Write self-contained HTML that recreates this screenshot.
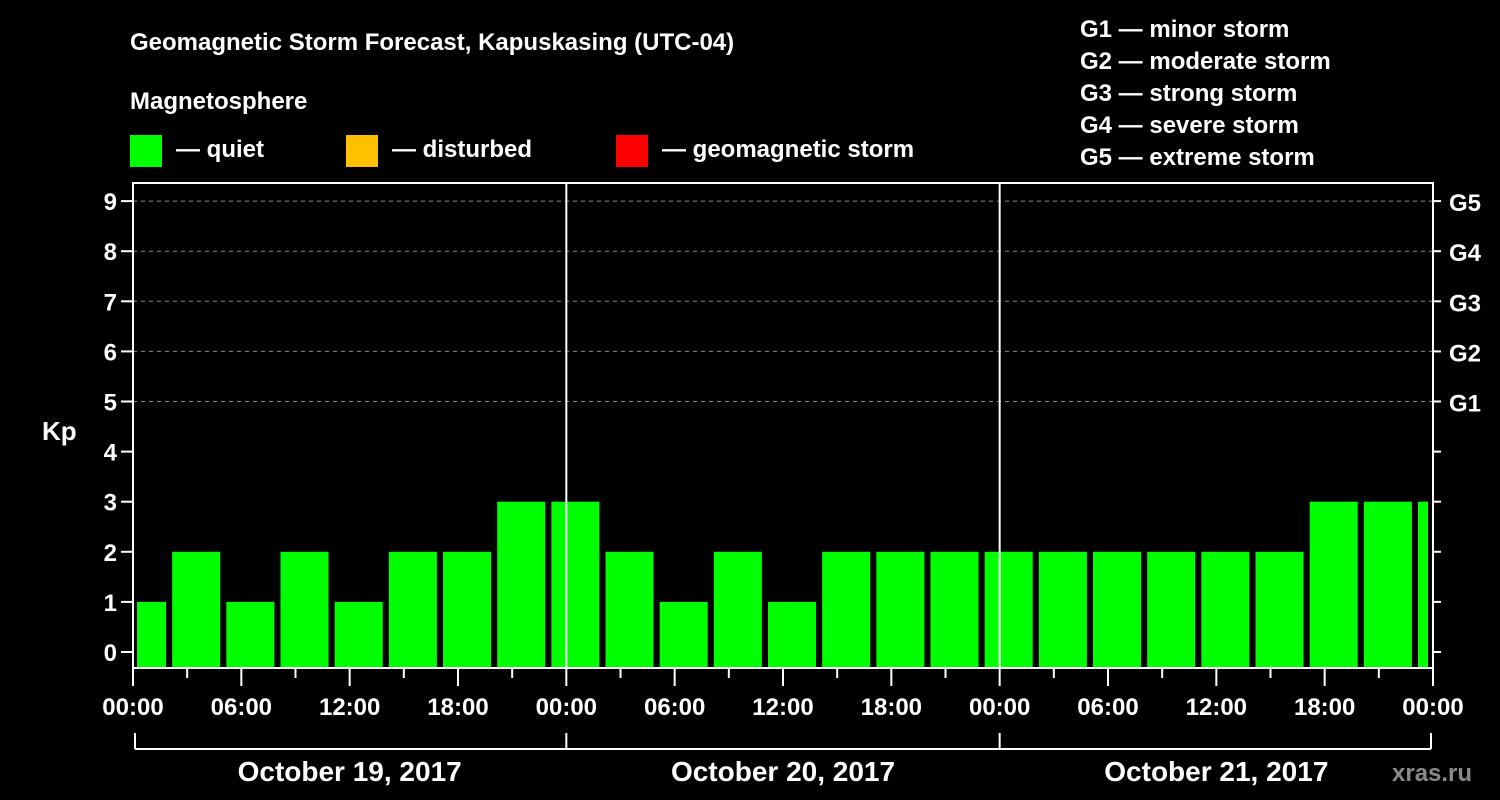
<!DOCTYPE html>
<html><head><meta charset="utf-8"><style>
html,body{margin:0;padding:0;background:#000;width:1500px;height:800px;overflow:hidden}
svg text{font-family:"Liberation Sans",Arial,sans-serif;font-weight:bold;fill:#fff}
</style></head><body>
<svg id="chart" width="1500" height="800" xmlns="http://www.w3.org/2000/svg">
<text x="130" y="50" font-size="24">Geomagnetic Storm Forecast, Kapuskasing (UTC-04)</text>
<text x="130" y="109" font-size="24">Magnetosphere</text>
<g><rect x="130" y="135" width="32" height="32" fill="#00ff00"/><text x="176" y="157" font-size="24">— quiet</text></g>
<g><rect x="346" y="135" width="32" height="32" fill="#ffc000"/><text x="392" y="157" font-size="24">— disturbed</text></g>
<g><rect x="616" y="135" width="32" height="32" fill="#ff0000"/><text x="662" y="157" font-size="24">— geomagnetic storm</text></g>
<g font-size="24">
<text x="1080" y="37">G1 — minor storm</text>
<text x="1080" y="69">G2 — moderate storm</text>
<text x="1080" y="101">G3 — strong storm</text>
<text x="1080" y="133">G4 — severe storm</text>
<text x="1080" y="165">G5 — extreme storm</text>
</g>
<text x="42" y="440" font-size="26">Kp</text>
<text x="1392" y="781" font-size="24" fill="#888" style="fill:#8a8a8a">xras.ru</text>
<g id="plot"></g>
</svg>
<script>
const kpValues=[1,2,1,2,1,2,2,3,3,2,1,2,1,2,2,2,2,2,2,2,2,2,3,3,3];
const yTicks=[0,1,2,3,4,5,6,7,8,9];
const gLabels=["G1","G2","G3","G4","G5"];
const xTickLabels=["00:00","06:00","12:00","18:00","00:00","06:00","12:00","18:00","00:00","06:00","12:00","18:00","00:00"];
const dayLabels=["October 19, 2017","October 20, 2017","October 21, 2017"];
const firstBarHour=0.5; // center hour of first bar
const X0=133,X1=1433,Y0=668,YTOP=183,TOT=72;
const xs=h=>X0+h*(X1-X0)/TOT;
const ys=v=>652-v*50.1;
const NS="http://www.w3.org/2000/svg";
const p=document.getElementById('plot');
function mk(t,a,parent){const e=document.createElementNS(NS,t);for(const k in a)e.setAttribute(k,a[k]);(parent||p).appendChild(e);return e;}
// grid
for(let v=5;v<=9;v++){const l=mk('line',{x1:X0,x2:X1,y1:ys(v),y2:ys(v),stroke:'#888','stroke-dasharray':'4,4','stroke-width':1});

}
// bars
kpValues.forEach((v,i)=>{const c=firstBarHour+i*3;let a=xs(c-1.33),b=xs(c+1.33);a=Math.max(a,X0+4);b=Math.min(b,X1-5);if(b<=a)return;
const col=v>=5?'#ff0000':(v>=4?'#ffc000':'#00ff00');
const r=mk('rect',{x:a,y:ys(v),width:b-a,height:Y0-1-ys(v),fill:col});

});
// day separators
[24,48].forEach(h=>{const l=mk('line',{x1:xs(h),x2:xs(h),y1:YTOP,y2:Y0,stroke:'#fff','stroke-width':2});

});
// frame
const f=mk('rect',{x:X0,y:YTOP,width:X1-X0,height:Y0-YTOP,fill:'none',stroke:'#fff','stroke-width':2});


// y ticks
yTicks.forEach(v=>{mk('line',{x1:X0-12,x2:X0,y1:ys(v),y2:ys(v),stroke:'#fff','stroke-width':2});
mk('line',{x1:X1,x2:X1+8,y1:ys(v),y2:ys(v),stroke:'#fff','stroke-width':2});
const t=mk('text',{x:X0-16,y:ys(v)+9,'font-size':24,'text-anchor':'end'});t.textContent=v;

});
gLabels.forEach((g,i)=>{const t=mk('text',{x:1449,y:ys(5+i)+10,'font-size':24});t.textContent=g;

});
// x ticks
for(let h=0;h<=TOT;h+=3){const major=h%6===0;mk('line',{x1:xs(h),x2:xs(h),y1:Y0,y2:Y0+(major?18:10),stroke:'#fff','stroke-width':2});}
xTickLabels.forEach((s,i)=>{const t=mk('text',{x:xs(i*6),y:715,'font-size':24,'text-anchor':'middle'});t.textContent=s;

});
// day bracket
mk('line',{x1:X0+2,x2:X1-2,y1:749,y2:749,stroke:'#fff','stroke-width':2});
[0,24,48,72].forEach(h=>mk('line',{x1:xs(h)+(h===0?2:h===72?-2:0),x2:xs(h)+(h===0?2:h===72?-2:0),y1:733,y2:749,stroke:'#fff','stroke-width':2}));
dayLabels.forEach((d,i)=>{const t=mk('text',{x:xs(i*24+12),y:781,'font-size':28,'text-anchor':'middle'});t.textContent=d;

});
</script>
</body></html>
